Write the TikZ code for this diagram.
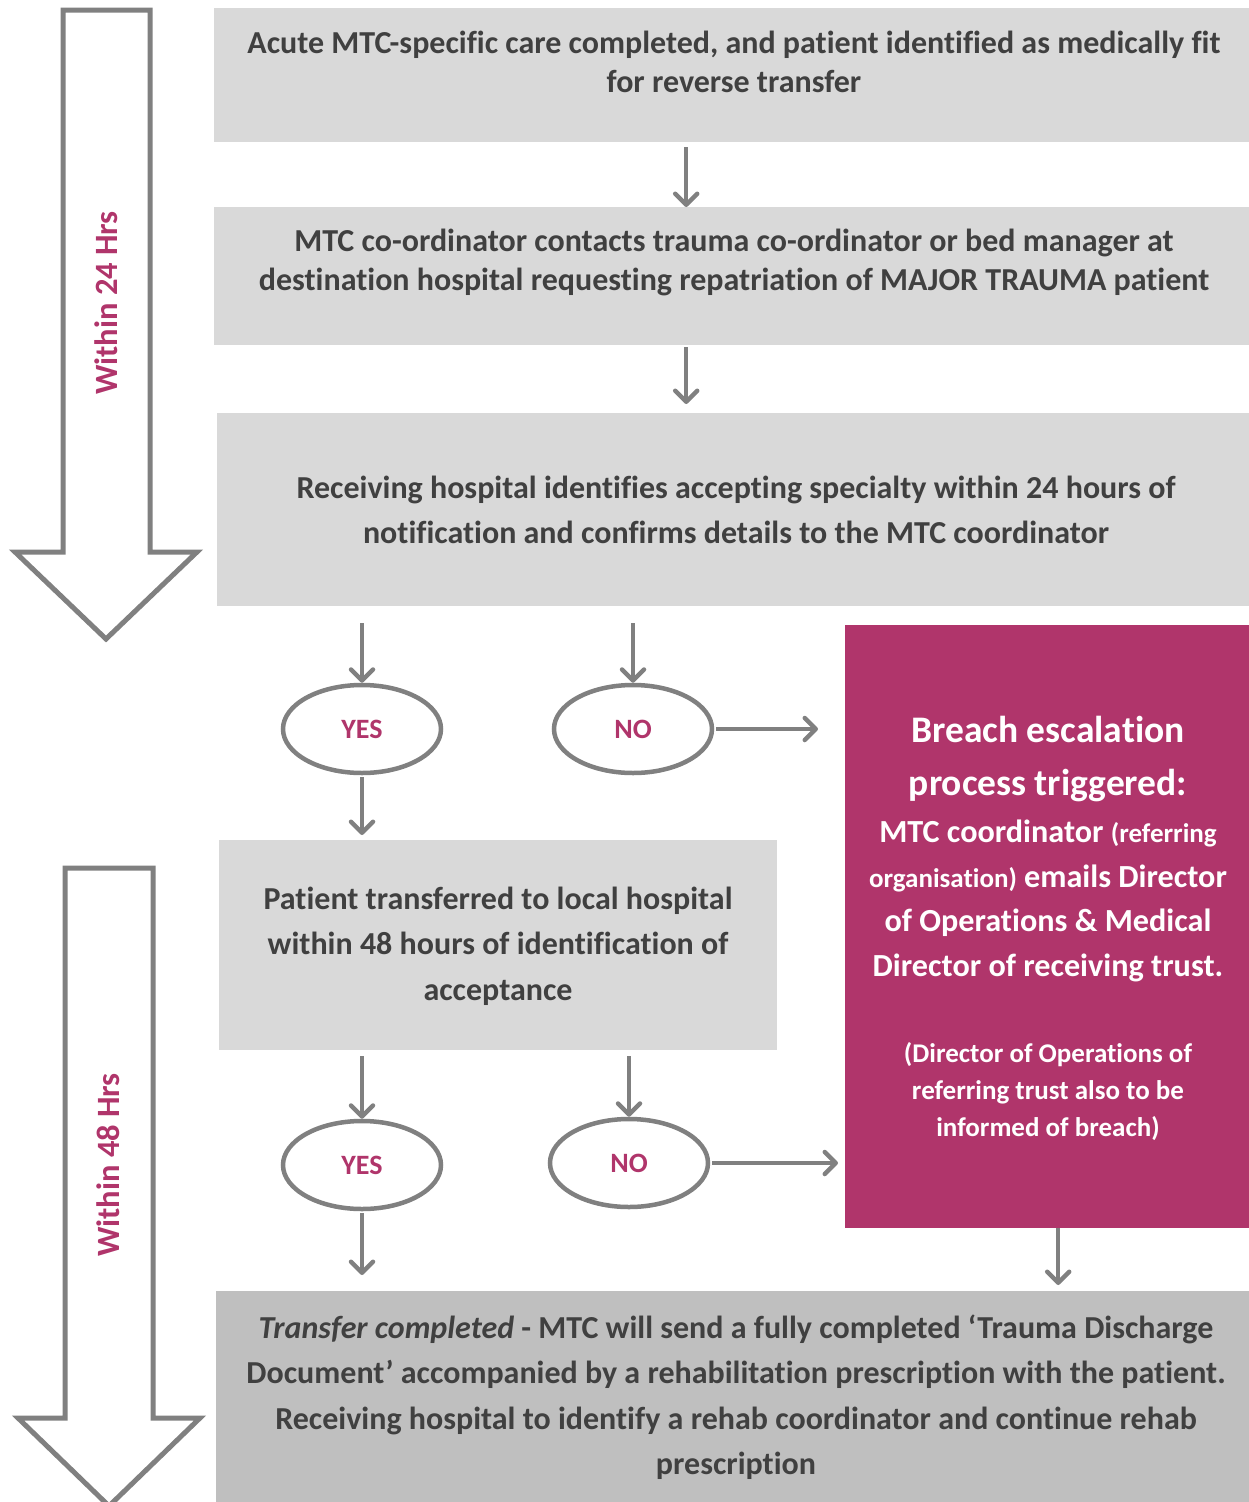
\documentclass[tikz,border=0pt]{standalone}
\usepackage{fontspec}
\setmainfont{Carlito}[Ligatures=CommonOff]
\usetikzlibrary{arrows.meta,shapes.geometric}

\definecolor{boxgrey}{HTML}{D9D9D9}
\definecolor{lastgrey}{HTML}{BFBFBF}
\definecolor{linegrey}{HTML}{808080}
\definecolor{txtgrey}{HTML}{404040}
\definecolor{breach}{HTML}{B0356B}

\newcommand{\refpart}[1]{{\fontsize{27}{44.5}\selectfont #1}}

\begin{document}
\begin{tikzpicture}[x=1pt, y=-1pt,
        box/.style={fill=boxgrey, draw=none, anchor=north west, inner sep=0pt},
        boxtext/.style={text=txtgrey, font=\bfseries\fontsize{32}{39}\selectfont, align=center},
        widetext/.style={boxtext, font=\bfseries\fontsize{32}{45.5}\selectfont},
        flow/.style={draw=linegrey, line width=4.5pt, -{Straight Barb[length=11pt,width=22pt,round]}},
        answer/.style={ellipse, draw=linegrey, line width=4.5pt, fill=white, minimum width=158pt, minimum height=88pt, inner sep=0pt, text=breach, font=\bfseries\fontsize{28}{32}\selectfont},
        timearrow/.style={draw=linegrey, line width=5pt, fill=white, line join=miter},
        timetext/.style={text=breach, font=\bfseries\fontsize{32.5}{38}\selectfont, rotate=90}]
        \useasboundingbox (0,0) rectangle (1249,1502);

        \draw[timearrow] (63,10) -- (150,10) -- (150,552) -- (197,552) -- (106,639) -- (15,552) -- (63,552) -- cycle;
        \draw[timearrow] (65,868) -- (153,868) -- (153,1418) -- (200,1418) -- (109,1506) -- (18,1418) -- (65,1418) -- cycle;
        \node[timetext] (w24) at (106,303) {Within 24 Hrs};
        \node[timetext] (w48) at (108,1165) {Within 48 Hrs};

        \node[box, minimum width=1035pt, minimum height=134pt] (b1) at (214,8) {};
        \node[box, minimum width=1035pt, minimum height=138pt] (b2) at (214,207) {};
        \node[box, minimum width=1032pt, minimum height=193pt] (b3) at (217,413) {};
        \node[box, minimum width=558pt, minimum height=210pt] (b4) at (219,840) {};
        \node[box, minimum width=1033pt, minimum height=211pt, fill=lastgrey] (b5) at (216,1291) {};
        \node[box, minimum width=404pt, minimum height=603pt, fill=breach] (br) at (845,625) {};

        \node[boxtext] (t1) at (734,62) {Acute MTC-specific care completed, and patient identified as medically fit\\for reverse transfer};
        \node[boxtext] (t2) at (734,262) {MTC co-ordinator contacts trauma co-ordinator or bed manager at\\destination hospital requesting repatriation of MAJOR TRAUMA patient};
        \node[widetext] (t3) at (736,510) {Receiving hospital identifies accepting specialty within 24 hours of\\notification and confirms details to the MTC coordinator};
        \node[widetext] (t4) at (498,946) {Patient transferred to local hospital\\within 48 hours of identification of\\acceptance};
        \node[widetext] (t5) at (736,1397) {\textit{Transfer completed} - MTC will send a fully completed ‘Trauma Discharge\\Document’ accompanied by a rehabilitation prescription with the patient.\\Receiving hospital to identify a rehab coordinator and continue rehab\\prescription};

        \node[text=white, align=center, font=\bfseries\fontsize{37.5}{53}\selectfont] (brt) at (1048,759) {Breach escalation\\process triggered:};
        \node[text=white, align=center, font=\bfseries\fontsize{32.2}{44.5}\selectfont] (brb) at (1048,901) {MTC coordinator \refpart{(referring}\\\refpart{organisation)} emails Director\\of Operations \& Medical\\Director of receiving trust.};
        \node[text=white, align=center, font=\bfseries\fontsize{27}{37}\selectfont] (brn) at (1048,1092) {(Director of Operations of\\referring trust also to be\\informed of breach)};

        \node[answer] (yes1) at (362,729) {YES};
        \node[answer] (no1) at (633,729) {NO};
        \node[answer] (yes2) at (362,1165) {YES};
        \node[answer] (no2) at (629,1163) {NO};

        \draw[flow, shorten <=5pt] ([xshift=-45.5pt]b1.south) -- ([xshift=-45.5pt]b1.south |- b2.north);
        \draw[flow, shorten <=2pt, shorten >=9pt] ([xshift=-45.5pt]b2.south) -- ([xshift=-45.5pt]b2.south |- b3.north);
        \draw[flow, shorten <=17pt] (yes1.north |- b3.south) -- (yes1.north);
        \draw[flow, shorten <=17pt] (no1.north |- b3.south) -- (no1.north);
        \draw[flow, shorten <=2pt, shorten >=27pt] (no1.east) -- (no1.east -| br.west);
        \draw[flow, shorten <=2pt, shorten >=5pt] (yes1.south) -- (yes1.south |- b4.north);
        \draw[flow, shorten <=6pt] (yes2.north |- b4.south) -- (yes2.north);
        \draw[flow, shorten <=6pt] (no2.north |- b4.south) -- (no2.north);
        \draw[flow, shorten <=2pt, shorten >=7pt] (no2.east) -- (no2.east -| br.west);
        \draw[flow, shorten <=2pt, shorten >=16pt] (yes2.south) -- (yes2.south |- b5.north);
        \draw[flow, shorten >=6pt] ([xshift=11pt]br.south) -- ([xshift=11pt]br.south |- b5.north);
\end{tikzpicture}
\end{document}
